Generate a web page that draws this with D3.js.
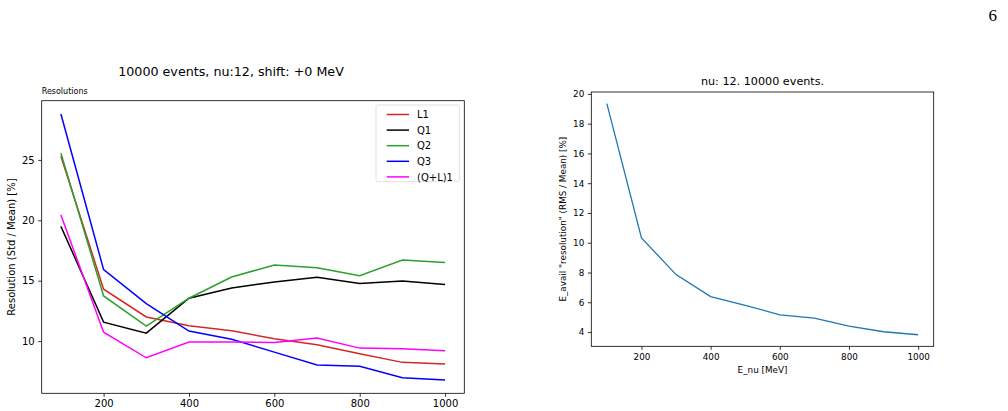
<!DOCTYPE html>
<html>
<head>
<meta charset="utf-8">
<script src="https://cdn.jsdelivr.net/npm/d3@7"></script>
<style>
  body { margin: 0; background: #fff; }
  svg { display: block; font-family: "DejaVu Sans", sans-serif; }
</style>
</head>
<body>
<svg id="canvas" width="1008" height="411"></svg>
<script>
// energies (MeV)
const energies = [100, 200, 300, 400, 500, 600, 700, 800, 900, 1000];

// left panel: resolutions per method
const resL1  = [25.3, 14.3, 12.0, 11.27, 10.85, 10.2, 9.7, 8.95, 8.24, 8.1];
const resQ1  = [19.5, 11.57, 10.66, 13.55, 14.4, 14.9, 15.28, 14.76, 14.98, 14.68];
const resQ2  = [25.55, 13.74, 11.24, 13.55, 15.31, 16.3, 16.08, 15.42, 16.71, 16.5];
const resQ3  = [28.8, 15.92, 13.1, 10.83, 10.16, 9.09, 8.02, 7.91, 6.97, 6.78];
const resQL1 = [20.43, 10.74, 8.62, 9.92, 9.92, 9.89, 10.25, 9.42, 9.37, 9.2];
const seriesNames = ["L1", "Q1", "Q2", "Q3", "(Q+L)1"];
const seriesColors = ["#d62728", "#000000", "#2ca02c", "#0000ff", "#ff00ff"];

// right panel: E_avail resolution
const resAvail = [19.35, 10.33, 7.86, 6.38, 5.8, 5.16, 4.94, 4.4, 4.02, 3.82];

const xTicks = [200, 400, 600, 800, 1000];
const leftYTicks = [10, 15, 20, 25];
const rightYTicks = [4, 6, 8, 10, 12, 14, 16, 18, 20];

const svg = d3.select("#canvas");
svg.append("rect").attr("width", 1008).attr("height", 411).attr("fill", "#fff");

// page number
svg.append("text")
  .attr("x", 997).attr("y", 21)
  .attr("text-anchor", "end")
  .style("font-family", "'Liberation Serif', 'DejaVu Serif', serif")
  .style("font-size", "17px")
  .text("6");

// matplotlib-like 5% margins
function padded(vals) {
  const lo = d3.min(vals), hi = d3.max(vals), p = (hi - lo) * 0.05;
  return [lo - p, hi + p];
}

function drawAxes(g, box, xScale, yScale, yTicks, fontSize) {
  const xAxis = d3.axisBottom(xScale).tickValues(xTicks).tickFormat(d3.format("d"))
    .tickSize(3.5).tickPadding(3.5);
  const yAxis = d3.axisLeft(yScale).tickValues(yTicks).tickFormat(d3.format("d"))
    .tickSize(3.5).tickPadding(3.5);

  const gx = g.append("g")
    .attr("transform", "translate(0," + box.bottom + ")")
    .call(xAxis);
  const gy = g.append("g")
    .attr("transform", "translate(" + box.left + ",0)")
    .call(yAxis);

  [gx, gy].forEach(a => {
    a.select(".domain").remove();
    a.selectAll("line").attr("stroke", "#000").attr("stroke-width", 0.8);
    a.selectAll("text")
      .attr("fill", "#000")
      .style("font-family", "'DejaVu Sans', sans-serif")
      .style("font-size", fontSize + "px");
  });

  g.append("rect")
    .attr("x", box.left).attr("y", box.top)
    .attr("width", box.right - box.left)
    .attr("height", box.bottom - box.top)
    .attr("fill", "none")
    .attr("stroke", "#000")
    .attr("stroke-width", 0.8);
}

// ---------- left panel ----------
const boxL = { left: 41.7, right: 464.3, top: 100.7, bottom: 393.3 };
const gL = svg.append("g");
const allLeft = [resL1, resQ1, resQ2, resQ3, resQL1];

const xL = d3.scaleLinear().domain(padded(energies)).range([boxL.left, boxL.right]);
const yL = d3.scaleLinear().domain(padded(allLeft.flat())).range([boxL.bottom, boxL.top]);

const lineL = d3.line().x((d, i) => xL(energies[i])).y(d => yL(d));

allLeft.forEach((s, k) => {
  gL.append("path")
    .datum(s)
    .attr("d", lineL)
    .attr("fill", "none")
    .attr("stroke", seriesColors[k])
    .attr("stroke-width", 1.5);
});

drawAxes(gL, boxL, xL, yL, leftYTicks, 10);

gL.append("text")
  .attr("x", (boxL.left + boxL.right) / 2 - 22).attr("y", 76)
  .attr("text-anchor", "middle")
  .style("font-size", "12.7px")
  .text("10000 events, nu:12, shift: +0 MeV");

gL.append("text")
  .attr("x", boxL.left).attr("y", 94)
  .style("font-size", "8px")
  .text("Resolutions");

gL.append("text")
  .attr("transform", "translate(15," + (boxL.top + boxL.bottom) / 2 + ") rotate(-90)")
  .attr("text-anchor", "middle")
  .style("font-size", "10px")
  .text("Resolution (Std / Mean) [%]");

// legend
const leg = gL.append("g").attr("transform", "translate(376,105)");
leg.append("rect")
  .attr("width", 83.3).attr("height", 76.7)
  .attr("rx", 2)
  .attr("fill", "#fff").attr("fill-opacity", 0.8)
  .attr("stroke", "#d9d9d9").attr("stroke-width", 0.8);
seriesNames.forEach((name, k) => {
  const yy = 9.5 + k * 15.6;
  leg.append("line")
    .attr("x1", 10.7).attr("x2", 33)
    .attr("y1", yy).attr("y2", yy)
    .attr("stroke", seriesColors[k]).attr("stroke-width", 1.5);
  leg.append("text")
    .attr("x", 41).attr("y", yy + 3.6)
    .style("font-size", "10px")
    .text(name);
});

// ---------- right panel ----------
const boxR = { left: 591.3, right: 933.7, top: 92, bottom: 346.3 };
const gR = svg.append("g");

const xR = d3.scaleLinear().domain(padded(energies)).range([boxR.left, boxR.right]);
const yR = d3.scaleLinear().domain(padded(resAvail)).range([boxR.bottom, boxR.top]);

gR.append("path")
  .datum(resAvail)
  .attr("d", d3.line().x((d, i) => xR(energies[i])).y(d => yR(d)))
  .attr("fill", "none")
  .attr("stroke", "#1f77b4")
  .attr("stroke-width", 1.3);

drawAxes(gR, boxR, xR, yR, rightYTicks, 8.8);

gR.append("text")
  .attr("x", (boxR.left + boxR.right) / 2).attr("y", 85)
  .attr("text-anchor", "middle")
  .style("font-size", "11.2px")
  .text("nu: 12. 10000 events.");

gR.append("text")
  .attr("x", (boxR.left + boxR.right) / 2).attr("y", 373)
  .attr("text-anchor", "middle")
  .style("font-size", "8.8px")
  .text("E_nu [MeV]");

gR.append("text")
  .attr("transform", "translate(566," + (boxR.top + boxR.bottom) / 2 + ") rotate(-90)")
  .attr("text-anchor", "middle")
  .style("font-size", "8.8px")
  .text("E_avail \"resolution\" (RMS / Mean) [%]");
</script>
</body>
</html>
